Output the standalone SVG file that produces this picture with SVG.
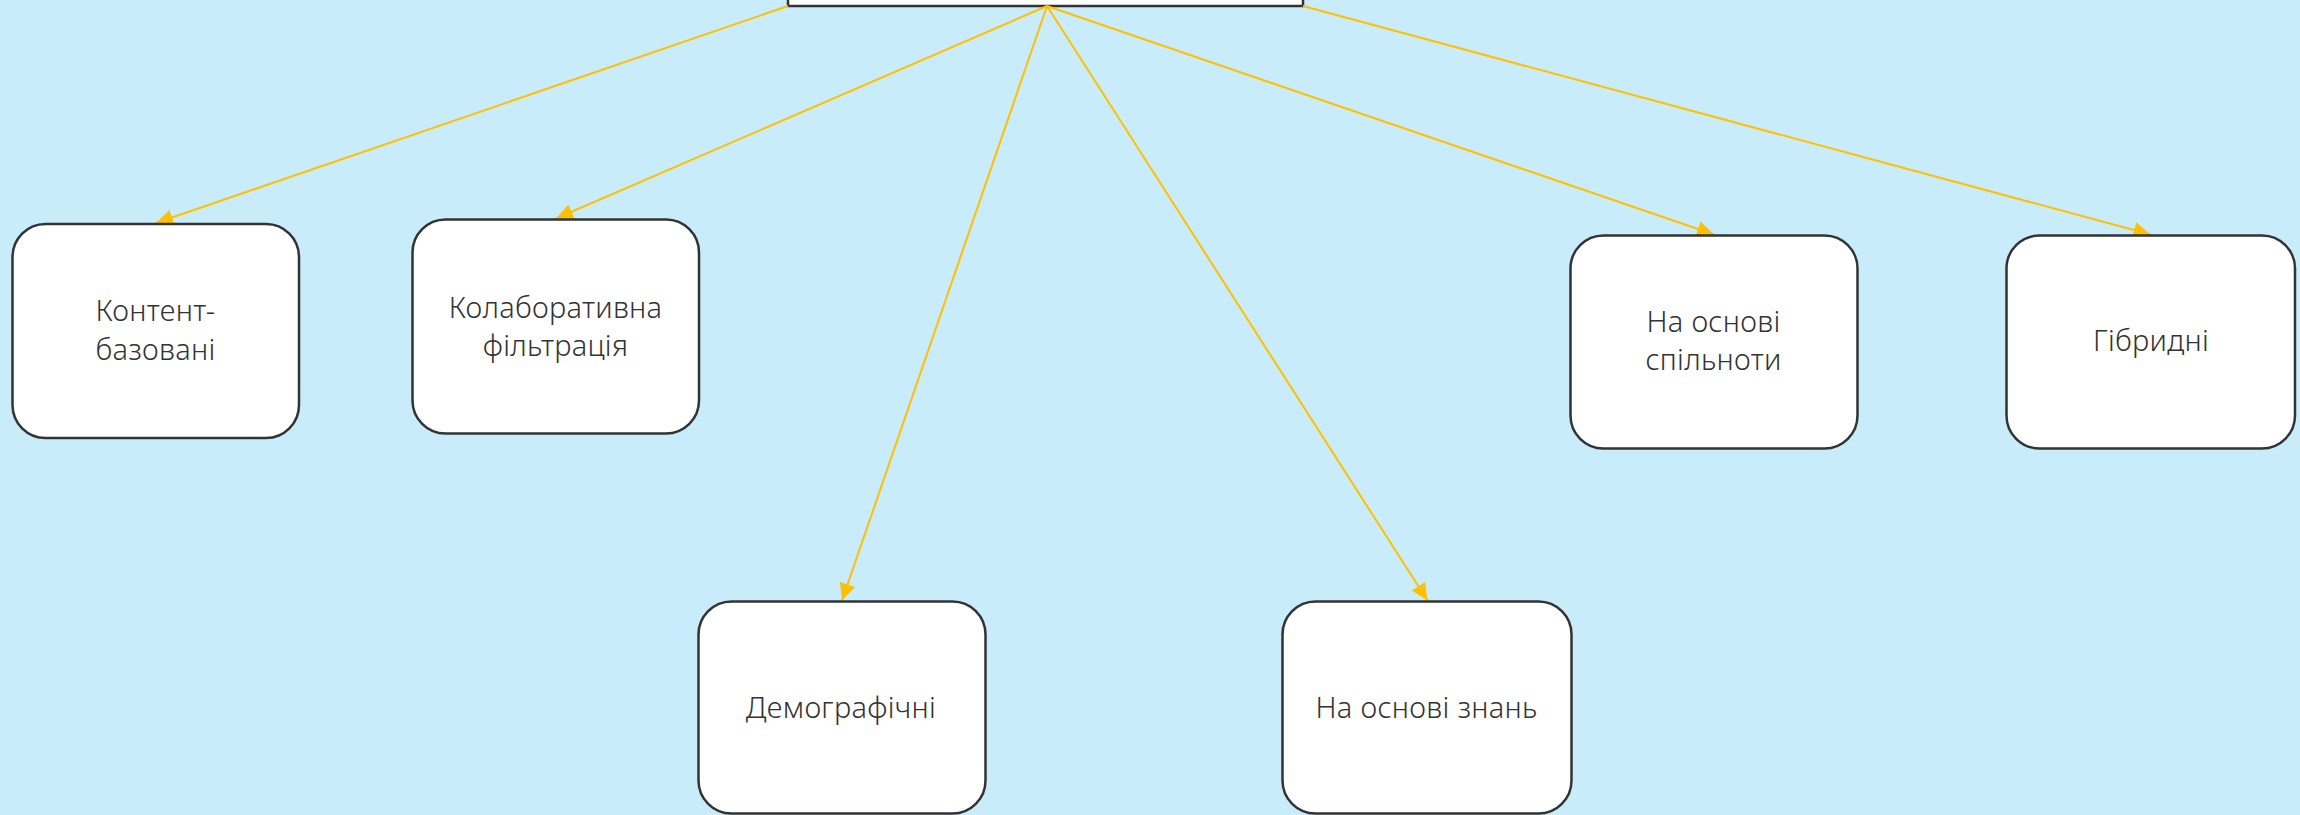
<svg xmlns="http://www.w3.org/2000/svg" width="2300" height="815" viewBox="0 0 2300 815">
<style>
.node rect{fill:#ffffff;stroke:#333333;stroke-width:2.5}
.node text{font-family:"Noto Sans","Open Sans",sans-serif;font-size:29px;font-weight:300;fill:#333333;text-anchor:middle;letter-spacing:0.3px}
.edge{stroke:#FFC000;stroke-width:2;fill:none;marker-end:url(#arr)}
</style>
<defs>
<marker id="arr" markerUnits="userSpaceOnUse" markerWidth="17" markerHeight="16" refX="17" refY="8" orient="auto" viewBox="0 0 17 16">
<path d="M0,0 L17,8 L0,16 z" fill="#FFC000"/>
</marker>
</defs>
<rect x="0" y="0" width="2300" height="815" fill="#C9ECFB"/>
<g id="root" class="node"><rect x="788" y="-60" width="515" height="66" rx="0"/></g>
<g id="connectors">
<line class="edge" x1="788" y1="6" x2="156" y2="223"/>
<line class="edge" x1="1047" y1="6" x2="556" y2="218.5"/>
<line class="edge" x1="1047" y1="6" x2="842" y2="600.5"/>
<line class="edge" x1="1047" y1="6" x2="1427.5" y2="600.5"/>
<line class="edge" x1="1047" y1="6" x2="1714" y2="234.5"/>
<line class="edge" x1="1303" y1="6" x2="2150.5" y2="234.5"/>
</g>
<g id="n1" class="node"><rect x="12.5" y="224" width="286.5" height="214" rx="33"/><text x="155.5" y="321">Контент-</text><text x="155.5" y="360">базовані</text></g>
<g id="n2" class="node"><rect x="412.5" y="219.5" width="286.5" height="214" rx="33"/><text x="555.5" y="318">Колаборативна</text><text x="555.5" y="356">фільтрація</text></g>
<g id="n3" class="node"><rect x="698.5" y="601.5" width="287" height="212" rx="33"/><text x="841" y="718">Демографічні</text></g>
<g id="n4" class="node"><rect x="1282.5" y="601.5" width="289" height="212" rx="33"/><text x="1426.5" y="718">На основі знань</text></g>
<g id="n5" class="node"><rect x="1570.5" y="235.5" width="287" height="213" rx="33"/><text x="1713.5" y="332">На основі</text><text x="1713.5" y="370">спільноти</text></g>
<g id="n6" class="node"><rect x="2006.5" y="235.5" width="288.5" height="213" rx="33"/><text x="2151" y="351">Гібридні</text></g>
</svg>
